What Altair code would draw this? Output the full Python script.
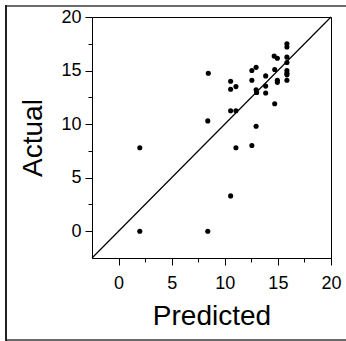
import altair as alt
import pandas as pd

predicted = [2.0, 2.0, 8.4, 8.4, 8.45, 10.55, 11.05, 12.55, 12.95, 14.7,
             10.55, 11.05, 10.55, 10.55, 11.05, 12.55, 12.95, 12.55, 12.95, 13.0,
             13.85, 13.85, 13.85, 14.65, 14.95, 14.7, 14.95, 14.95,
             15.85, 15.85, 15.85, 15.85, 15.85, 15.85, 15.85, 15.85]
actual = [7.8, 0.0, 0.0, 10.3, 14.75, 3.3, 7.8, 8.0, 9.8, 11.9,
          11.25, 11.25, 14.0, 13.25, 13.5, 15.0, 15.3, 14.1, 13.2, 12.95,
          14.5, 13.55, 12.9, 16.35, 16.15, 15.1, 14.1, 13.9,
          17.5, 17.2, 16.25, 15.75, 15.0, 14.75, 14.6, 14.1]
diag = [-2.5, 20]
tick_values = [0, 2.5, 5, 7.5, 10, 12.5, 15, 17.5, 20]
domain = [-2.5, 20]

pts = pd.DataFrame({"Predicted": predicted, "Actual": actual})
line_df = pd.DataFrame({"Predicted": diag, "Actual": diag})

tick_size = {"condition": {"test": "datum.value % 5 === 0", "value": 7}, "value": 4}
label_expr = "datum.value % 5 === 0 ? datum.label : ''"

xaxis = alt.Axis(title="Predicted", values=tick_values, labelExpr=label_expr,
                 tickSize=tick_size, labelPadding=9, titlePadding=10,
                 labelFlush=False, labelOverlap=False)
yaxis = alt.Axis(title="Actual", values=tick_values, labelExpr=label_expr,
                 tickSize=tick_size, labelPadding=4, titlePadding=13,
                 labelFlush=False, labelOverlap=False)

xs = alt.Scale(domain=domain, nice=False, zero=False)
ys = alt.Scale(domain=domain, nice=False, zero=False)

points = alt.Chart(pts).mark_circle(size=26, color="black", opacity=1).encode(
    x=alt.X("Predicted:Q", scale=xs, axis=xaxis),
    y=alt.Y("Actual:Q", scale=ys, axis=yaxis),
)

diag_line = alt.Chart(line_df).mark_line(color="black", strokeWidth=1.2).encode(
    x=alt.X("Predicted:Q", scale=xs, axis=xaxis),
    y=alt.Y("Actual:Q", scale=ys, axis=yaxis),
)

one = alt.Data(values=[{}])
frame_top = alt.Chart(one).mark_rule(color="#6b6b6b", strokeWidth=2).encode(
    x=alt.value(-87), x2=alt.value(260), y=alt.value(-11), y2=alt.value(-11))
frame_bottom = alt.Chart(one).mark_rule(color="#6b6b6b", strokeWidth=2).encode(
    x=alt.value(-87), x2=alt.value(260), y=alt.value(323), y2=alt.value(323))
frame_left = alt.Chart(one).mark_rule(color="#222222", strokeWidth=2).encode(
    x=alt.value(-86), x2=alt.value(-86), y=alt.value(-12), y2=alt.value(324))

chart = alt.layer(diag_line, points, frame_top, frame_bottom, frame_left).properties(
    width=239, height=241,
    padding={"left": 92, "top": 17, "right": 15, "bottom": 83},
    autosize="none",
    background="white",
).configure_view(stroke="black", strokeWidth=1).configure_axis(
    domainColor="black", tickColor="black", labelColor="black", titleColor="black",
    labelFont="Liberation Sans", titleFont="Liberation Sans",
    labelFontSize=18, titleFontSize=28, titleFontWeight="normal",
    grid=False, domainWidth=1, tickWidth=1,
)

chart.save("out.html", embed_options={"renderer": "svg", "actions": False})
